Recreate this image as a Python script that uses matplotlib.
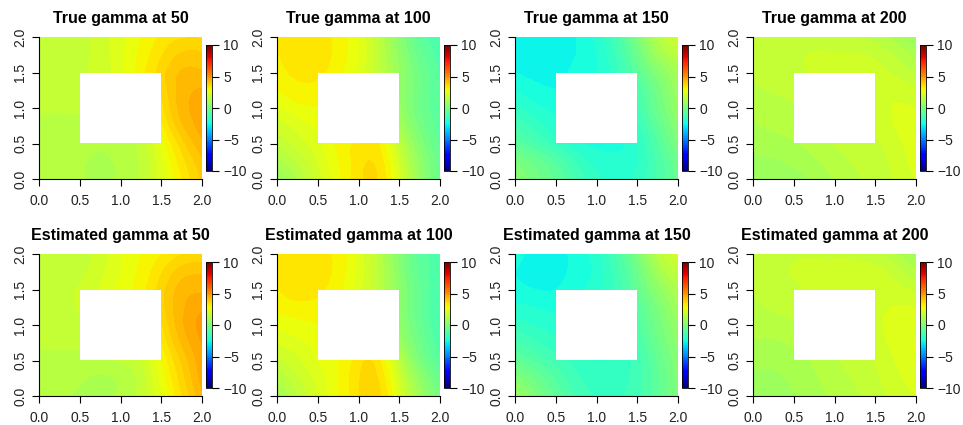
import numpy as np
import matplotlib
matplotlib.use("Agg")
import matplotlib.pyplot as plt
import matplotlib.tri as mtri

plt.rcParams['font.family'] = ['Liberation Sans', 'DejaVu Sans']

# grid nodes (x, y) and hole bounds
grid_x = [0.0, 0.25, 0.5, 0.75, 1.0, 1.25, 1.5, 1.75, 2.0]
grid_y = [2.0, 1.75, 1.5, 1.25, 1.0, 0.75, 0.5, 0.25, 0.0]   # rows listed top -> bottom
hole = (0.5, 1.5)
N = None

true_50 = [
    [1.7, 1.7, 1.8, 2.0, 2.4, 2.8, 3.2, 3.4, 3.4],
    [1.7, 1.7, 1.8, 2.0, 2.4, 2.9, 3.4, 3.8, 3.8],
    [1.7, 1.7, 1.8, 2.0, 2.4, 3.0, 3.6, 4.1, 4.1],
    [1.7, 1.7, 1.7, N, N, N, 3.5, 4.2, 4.4],
    [1.6, 1.6, 1.6, N, N, N, 3.3, 4.2, 4.5],
    [1.5, 1.5, 1.5, N, N, N, 3.0, 4.0, 4.5],
    [1.5, 1.5, 1.4, 1.3, 1.4, 1.7, 2.6, 3.6, 4.3],
    [1.4, 1.4, 1.3, 1.2, 1.3, 1.6, 2.4, 3.3, 4.0],
    [1.4, 1.4, 1.3, 1.2, 1.3, 1.6, 2.3, 3.1, 3.8],
]
est_50 = [
    [1.6, 1.6, 1.7, 2.0, 2.5, 2.8, 3.1, 3.4, 3.5],
    [1.7, 1.7, 1.8, 2.1, 2.5, 2.9, 3.4, 3.9, 4.0],
    [1.8, 1.8, 1.9, 2.2, 2.6, 3.0, 3.6, 4.2, 4.3],
    [1.8, 1.8, 1.9, N, N, N, 3.6, 4.3, 4.6],
    [1.7, 1.7, 1.8, N, N, N, 3.4, 4.3, 4.8],
    [1.6, 1.6, 1.6, N, N, N, 3.1, 4.1, 4.7],
    [1.5, 1.5, 1.5, 1.5, 1.6, 1.9, 2.8, 3.8, 4.6],
    [1.4, 1.4, 1.3, 1.2, 1.3, 1.7, 2.6, 3.6, 4.5],
    [1.4, 1.3, 1.2, 1.2, 1.3, 1.7, 2.5, 3.4, 4.3],
]
true_100 = [
    [3.2, 3.3, 3.3, 3.0, 2.5, 1.5, 0.3, -0.8, -1.1],
    [3.1, 3.3, 3.3, 3.0, 2.5, 1.6, 0.5, -0.5, -1.1],
    [3.0, 3.2, 3.2, 2.9, 2.4, 1.6, 0.6, -0.3, -1.0],
    [2.8, 3.0, 3.0, N, N, N, 0.6, -0.3, -0.9],
    [2.4, 2.7, 2.8, N, N, N, 0.7, -0.3, -0.9],
    [2.0, 2.3, 2.6, N, N, N, 1.0, -0.1, -0.8],
    [1.6, 2.0, 2.4, 2.9, 3.2, 3.1, 1.6, 0.2, -0.7],
    [1.1, 1.6, 2.2, 2.8, 3.3, 3.3, 2.0, 0.5, -0.5],
    [0.6, 1.3, 2.0, 2.7, 3.3, 3.4, 2.2, 0.6, -0.5],
]
est_100 = [
    [3.3, 3.4, 3.3, 3.0, 2.4, 1.4, 0.2, -0.8, -1.0],
    [3.3, 3.4, 3.3, 3.0, 2.4, 1.5, 0.3, -0.7, -1.1],
    [3.1, 3.3, 3.2, 2.9, 2.3, 1.5, 0.4, -0.6, -1.2],
    [2.9, 3.0, 3.0, N, N, N, 0.4, -0.6, -1.2],
    [2.6, 2.7, 2.8, N, N, N, 0.5, -0.5, -1.3],
    [2.2, 2.4, 2.6, N, N, N, 0.8, -0.3, -1.1],
    [1.8, 2.1, 2.5, 2.8, 3.3, 3.2, 1.5, 0.0, -0.9],
    [1.3, 1.8, 2.3, 2.8, 3.4, 3.4, 2.0, 0.5, -0.5],
    [0.9, 1.5, 2.2, 2.8, 3.4, 3.5, 2.3, 0.8, -0.2],
]
true_150 = [
    [-2.6, -2.7, -2.7, -2.5, -2.1, -1.3, 0.0, 1.3, 2.0],
    [-2.6, -2.7, -2.7, -2.5, -2.2, -1.5, -0.4, 0.8, 1.5],
    [-2.5, -2.6, -2.6, -2.4, -2.2, -1.7, -0.8, 0.2, 1.0],
    [-2.2, -2.4, -2.5, N, N, N, -1.2, -0.2, 0.8],
    [-1.8, -2.1, -2.3, N, N, N, -1.4, -0.4, 0.6],
    [-1.3, -1.7, -2.1, N, N, N, -1.7, -0.7, 0.3],
    [-0.8, -1.2, -1.7, -2.1, -2.3, -2.3, -1.9, -1.0, 0.0],
    [0.0, -0.5, -1.0, -1.6, -2.0, -2.1, -1.9, -1.2, -0.4],
    [0.3, -0.2, -0.7, -1.3, -1.8, -2.0, -1.8, -1.2, -0.5],
]
est_150 = [
    [-2.4, -2.6, -2.6, -2.4, -2.0, -1.2, 0.0, 1.4, 2.0],
    [-2.5, -2.6, -2.6, -2.4, -2.1, -1.4, -0.4, 0.9, 1.6],
    [-2.4, -2.5, -2.5, -2.3, -2.0, -1.5, -0.6, 0.4, 1.2],
    [-2.1, -2.2, -2.3, N, N, N, -0.9, 0.0, 0.9],
    [-1.7, -1.9, -2.0, N, N, N, -1.1, -0.2, 0.6],
    [-1.2, -1.5, -1.8, N, N, N, -1.3, -0.4, 0.4],
    [-0.6, -1.0, -1.4, -1.7, -1.9, -1.8, -1.4, -0.6, 0.2],
    [0.2, -0.4, -1.0, -1.5, -1.7, -1.7, -1.4, -0.7, 0.1],
    [0.8, 0.0, -0.7, -1.3, -1.6, -1.6, -1.4, -0.7, 0.0],
]
true_200 = [
    [1.7, 1.7, 1.7, 1.7, 1.7, 1.6, 1.4, 1.1, 0.6],
    [1.7, 1.7, 1.8, 1.9, 1.9, 1.9, 1.8, 1.5, 1.1],
    [1.6, 1.7, 1.8, 1.9, 2.0, 2.0, 2.0, 1.8, 1.5],
    [1.5, 1.6, 1.7, N, N, N, 2.1, 2.1, 1.9],
    [1.4, 1.4, 1.5, N, N, N, 2.1, 2.2, 2.2],
    [1.2, 1.3, 1.4, N, N, N, 2.0, 2.2, 2.3],
    [1.1, 1.1, 1.2, 1.4, 1.6, 1.7, 1.8, 2.1, 2.3],
    [0.8, 0.9, 1.0, 1.2, 1.4, 1.6, 1.7, 2.0, 2.3],
    [0.7, 0.7, 0.8, 1.0, 1.3, 1.5, 1.7, 1.9, 2.2],
]
est_200 = [
    [1.7, 1.7, 1.8, 1.8, 1.8, 1.8, 1.6, 1.3, 0.8],
    [1.7, 1.8, 1.9, 2.0, 2.0, 2.0, 2.0, 1.7, 1.3],
    [1.6, 1.7, 1.8, 1.9, 2.0, 2.1, 2.1, 2.0, 1.8],
    [1.5, 1.6, 1.7, N, N, N, 2.1, 2.2, 2.2],
    [1.4, 1.4, 1.5, N, N, N, 2.1, 2.3, 2.4],
    [1.2, 1.2, 1.3, N, N, N, 2.0, 2.3, 2.5],
    [1.0, 1.0, 1.1, 1.3, 1.5, 1.7, 1.9, 2.2, 2.5],
    [0.9, 0.9, 1.0, 1.2, 1.4, 1.6, 1.8, 2.1, 2.3],
    [0.8, 0.8, 0.9, 1.1, 1.3, 1.5, 1.7, 2.0, 2.2],
]

times = [50, 100, 150, 200]
true_fields = [true_50, true_100, true_150, true_200]
est_fields = [est_50, est_100, est_150, est_200]
zlim = (-10, 10)
cbar_ticks = [-10, -5, 0, 5, 10]
axis_ticks = [0.0, 0.5, 1.0, 1.5, 2.0]

W, H = 963, 425
fig = plt.figure(figsize=(W / 100, H / 100), dpi=100)
cmap = plt.get_cmap('jet', 64)
levels = np.linspace(zlim[0], zlim[1], 65)


def px_axes(left, top, width, height):
    return fig.add_axes([left / W, 1 - (top + height) / H, width / W, height / H])


def draw_panel(ax, cax, field, title):
    xs, ys, vs = [], [], []
    for j, row in enumerate(field):
        for i, v in enumerate(row):
            if v is not None:
                xs.append(grid_x[i]); ys.append(grid_y[j]); vs.append(v)
    xs = np.array(xs); ys = np.array(ys); vs = np.array(vs)
    tri = mtri.Triangulation(xs, ys)
    cx = xs[tri.triangles].mean(axis=1)
    cy = ys[tri.triangles].mean(axis=1)
    inside = (cx > hole[0]) & (cx < hole[1]) & (cy > hole[0]) & (cy < hole[1])
    tri.set_mask(inside)
    refiner = mtri.UniformTriRefiner(tri)
    tri_f, v_f = refiner.refine_field(vs, subdiv=2)
    ax.tricontourf(tri_f, v_f, levels=levels, cmap=cmap,
                   vmin=zlim[0], vmax=zlim[1], antialiased=False)
    ax.set_xlim(0, 2)
    ax.set_ylim(0, 2)
    for s in ['top', 'right']:
        ax.spines[s].set_visible(False)
    for s in ['bottom', 'left']:
        ax.spines[s].set_linewidth(0.8)
        ax.spines[s].set_bounds(0, 2)
    ax.set_xticks(axis_ticks)
    ax.set_yticks(axis_ticks)
    ax.set_xticklabels([f"{t:.1f}" for t in axis_ticks])
    ax.set_yticklabels([f"{t:.1f}" for t in axis_ticks], rotation=90, va='center')
    ax.tick_params(direction='out', length=5, width=0.8, labelsize=10,
                   color='black', labelcolor='#222222')
    ax.tick_params(axis='x', pad=6)
    ax.tick_params(axis='y', pad=3.5)
    ax.set_title(title, fontsize=11.5, fontweight='bold', pad=10)

    sm = matplotlib.cm.ScalarMappable(cmap=cmap, norm=matplotlib.colors.Normalize(*zlim))
    cb = fig.colorbar(sm, cax=cax, ticks=cbar_ticks)
    cb.outline.set_linewidth(0.6)
    cax.tick_params(length=5, width=0.8, labelsize=10, pad=3, labelcolor='#222222')


for c, t in enumerate(times):
    for r, (fields, lab) in enumerate([(true_fields, 'True'), (est_fields, 'Estimated')]):
        L = 39 + 238 * c
        T = 37 + 217 * r
        ax = px_axes(L, T, 163, 142)
        cax = px_axes(L + 167, T + 8, 6, 126)
        draw_panel(ax, cax, fields[c], f"{lab} gamma at {t}")

fig.savefig('out.png', dpi=100)
